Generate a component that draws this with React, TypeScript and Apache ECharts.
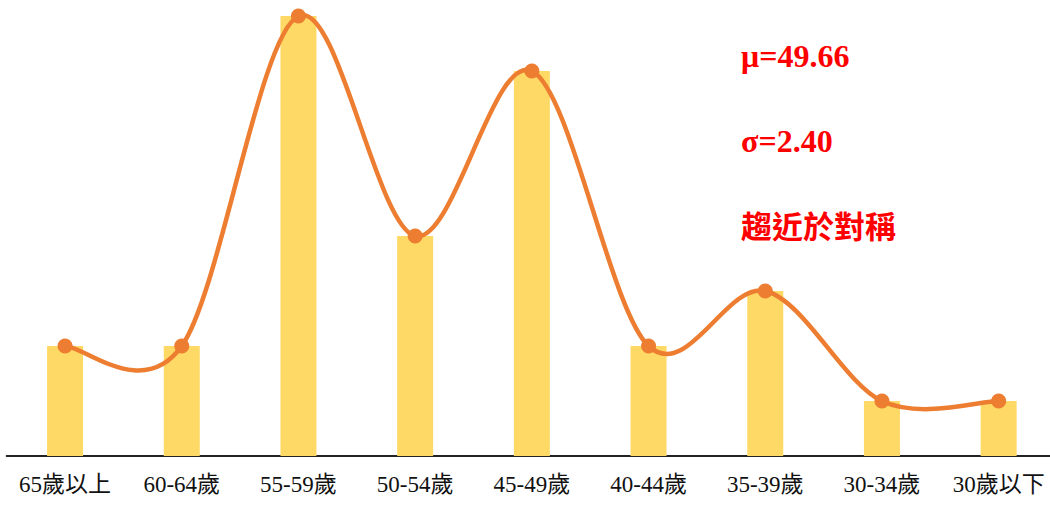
import React, { useEffect, useRef } from "react";
import * as echarts from "echarts";

const categories = ["65歲以上", "60-64歲", "55-59歲", "50-54歲", "45-49歲", "40-44歲", "35-39歲", "30-34歲", "30歲以下"];
const barValues = [2, 2, 8, 4, 7, 2, 3, 1, 1];
const lineValues = [2, 2, 8, 4, 7, 2, 3, 1, 1];
const notes = ["μ=49.66", "σ=2.40", "趨近於對稱"];

export default function App() {
  const ref = useRef<HTMLDivElement>(null);
  useEffect(() => {
    if (!ref.current) return;
    const chart = echarts.init(ref.current, null, { renderer: "svg" });
    const serif = "'Liberation Serif', 'Times New Roman', 'Noto Sans CJK TC', serif";
    const n = lineValues.length;
    const pt = (api: any, i: number) => {
      const j = Math.max(0, Math.min(n - 1, i));
      return api.coord([j, lineValues[j]]);
    };
    chart.setOption({
      animation: false,
      grid: { left: 6.7, right: 0, top: 16, bottom: 49 },
      xAxis: {
        type: "category",
        data: categories,
        axisLine: { lineStyle: { color: "#222", width: 2 } },
        axisTick: { show: false },
        axisLabel: { color: "#111", fontSize: 23, fontFamily: serif, margin: 17, interval: 0 },
      },
      yAxis: {
        type: "value",
        min: 0,
        max: 8,
        show: false,
        splitLine: { show: false },
      },
      series: [
        {
          type: "bar",
          data: barValues,
          barWidth: 36,
          itemStyle: { color: "#FFD966" },
        },
        {
          type: "custom",
          data: lineValues.map((v, i) => [i, v]),
          clip: false,
          z: 3,
          renderItem: (params: any, api: any) => {
            const i = params.dataIndex;
            if (i >= n - 1) return null;
            const p0 = pt(api, i - 1);
            const p1 = pt(api, i);
            const p2 = pt(api, i + 1);
            const p3 = pt(api, i + 2);
            return {
              type: "bezierCurve",
              shape: {
                x1: p1[0],
                y1: p1[1],
                cpx1: p1[0] + (p2[0] - p0[0]) / 6,
                cpy1: p1[1] + (p2[1] - p0[1]) / 6,
                cpx2: p2[0] - (p3[0] - p1[0]) / 6,
                cpy2: p2[1] - (p3[1] - p1[1]) / 6,
                x2: p2[0],
                y2: p2[1],
              },
              style: { stroke: "#ED7D31", lineWidth: 4.5, fill: null, lineCap: "round" },
            };
          },
        },
        {
          type: "scatter",
          data: lineValues,
          symbol: "circle",
          symbolSize: 15,
          itemStyle: { color: "#ED7D31", opacity: 1 },
          z: 4,
        },
      ],
      graphic: notes.map((t, i) => ({
        type: "text",
        left: 741,
        top: i === 2 ? 209 : 40 + i * 85,
        style: {
          text: t,
          fill: "#FF0000",
          fontSize: i === 2 ? 31 : 32,
          fontWeight: "bold",
          fontFamily: i === 2 ? "'Noto Sans CJK TC', sans-serif" : serif,
        },
      })),
    });
    return () => chart.dispose();
  }, []);
  return (
    <div style={{ position: "absolute", left: 0, top: 0, width: 1050, height: 505, overflow: "hidden" }}>
      <div ref={ref} style={{ width: 1056.5, height: 505 }} />
    </div>
  );
}
